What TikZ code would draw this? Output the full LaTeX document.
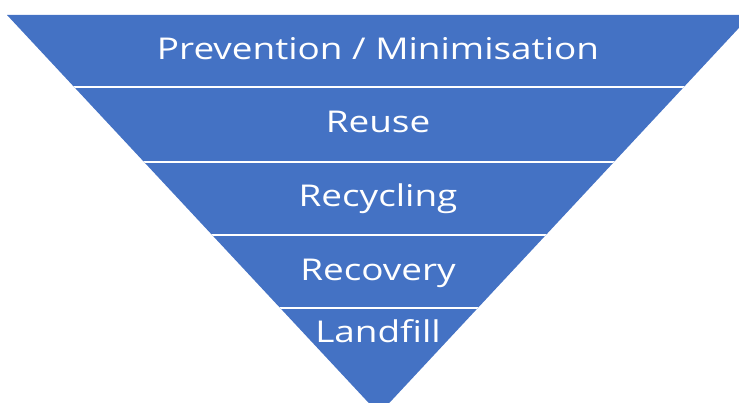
\documentclass[tikz,border=0pt]{standalone}
\usepackage{fontspec}
\setmainfont{Open Sans}
\usetikzlibrary{positioning}
\definecolor{tierblue}{HTML}{4472C4}
\tikzstyle{tier} = [text=white, anchor=base, inner sep=0pt, xscale=1.23, transform shape, font=\fontsize{30}{33}\selectfont]

\begin{document}
\begin{tikzpicture}[x=1pt, y=-1pt]
		\useasboundingbox (0,0) rectangle (739,403);
		\clip (0,0) rectangle (739,403);
		\coordinate (top left)  at (7,15);
		\coordinate (top right) at (751,15);
		\coordinate (apex)      at (379,414);
		
		\fill[tierblue] (top left) -- (top right) -- (apex) -- cycle;
		\begin{scope}
			\clip (top left) -- (top right) -- (apex) -- cycle;
			\foreach \y in {87,162,235,308}
				\draw[white, line width=1.5pt] (0,\y) -- (739,\y);
		\end{scope}
		
		\node[tier] (prevention) at (378,60)  {Prevention / Minimisation};
		\node[tier] (reuse)      at (378,133) {Reuse};
		\node[tier] (recycling)  at (378,207) {Recycling};
		\node[tier] (recovery)   at (378,281) {Recovery};
		\node[tier] (landfill)   at (378,342) {Landfill};
	\end{tikzpicture}
\end{document}
